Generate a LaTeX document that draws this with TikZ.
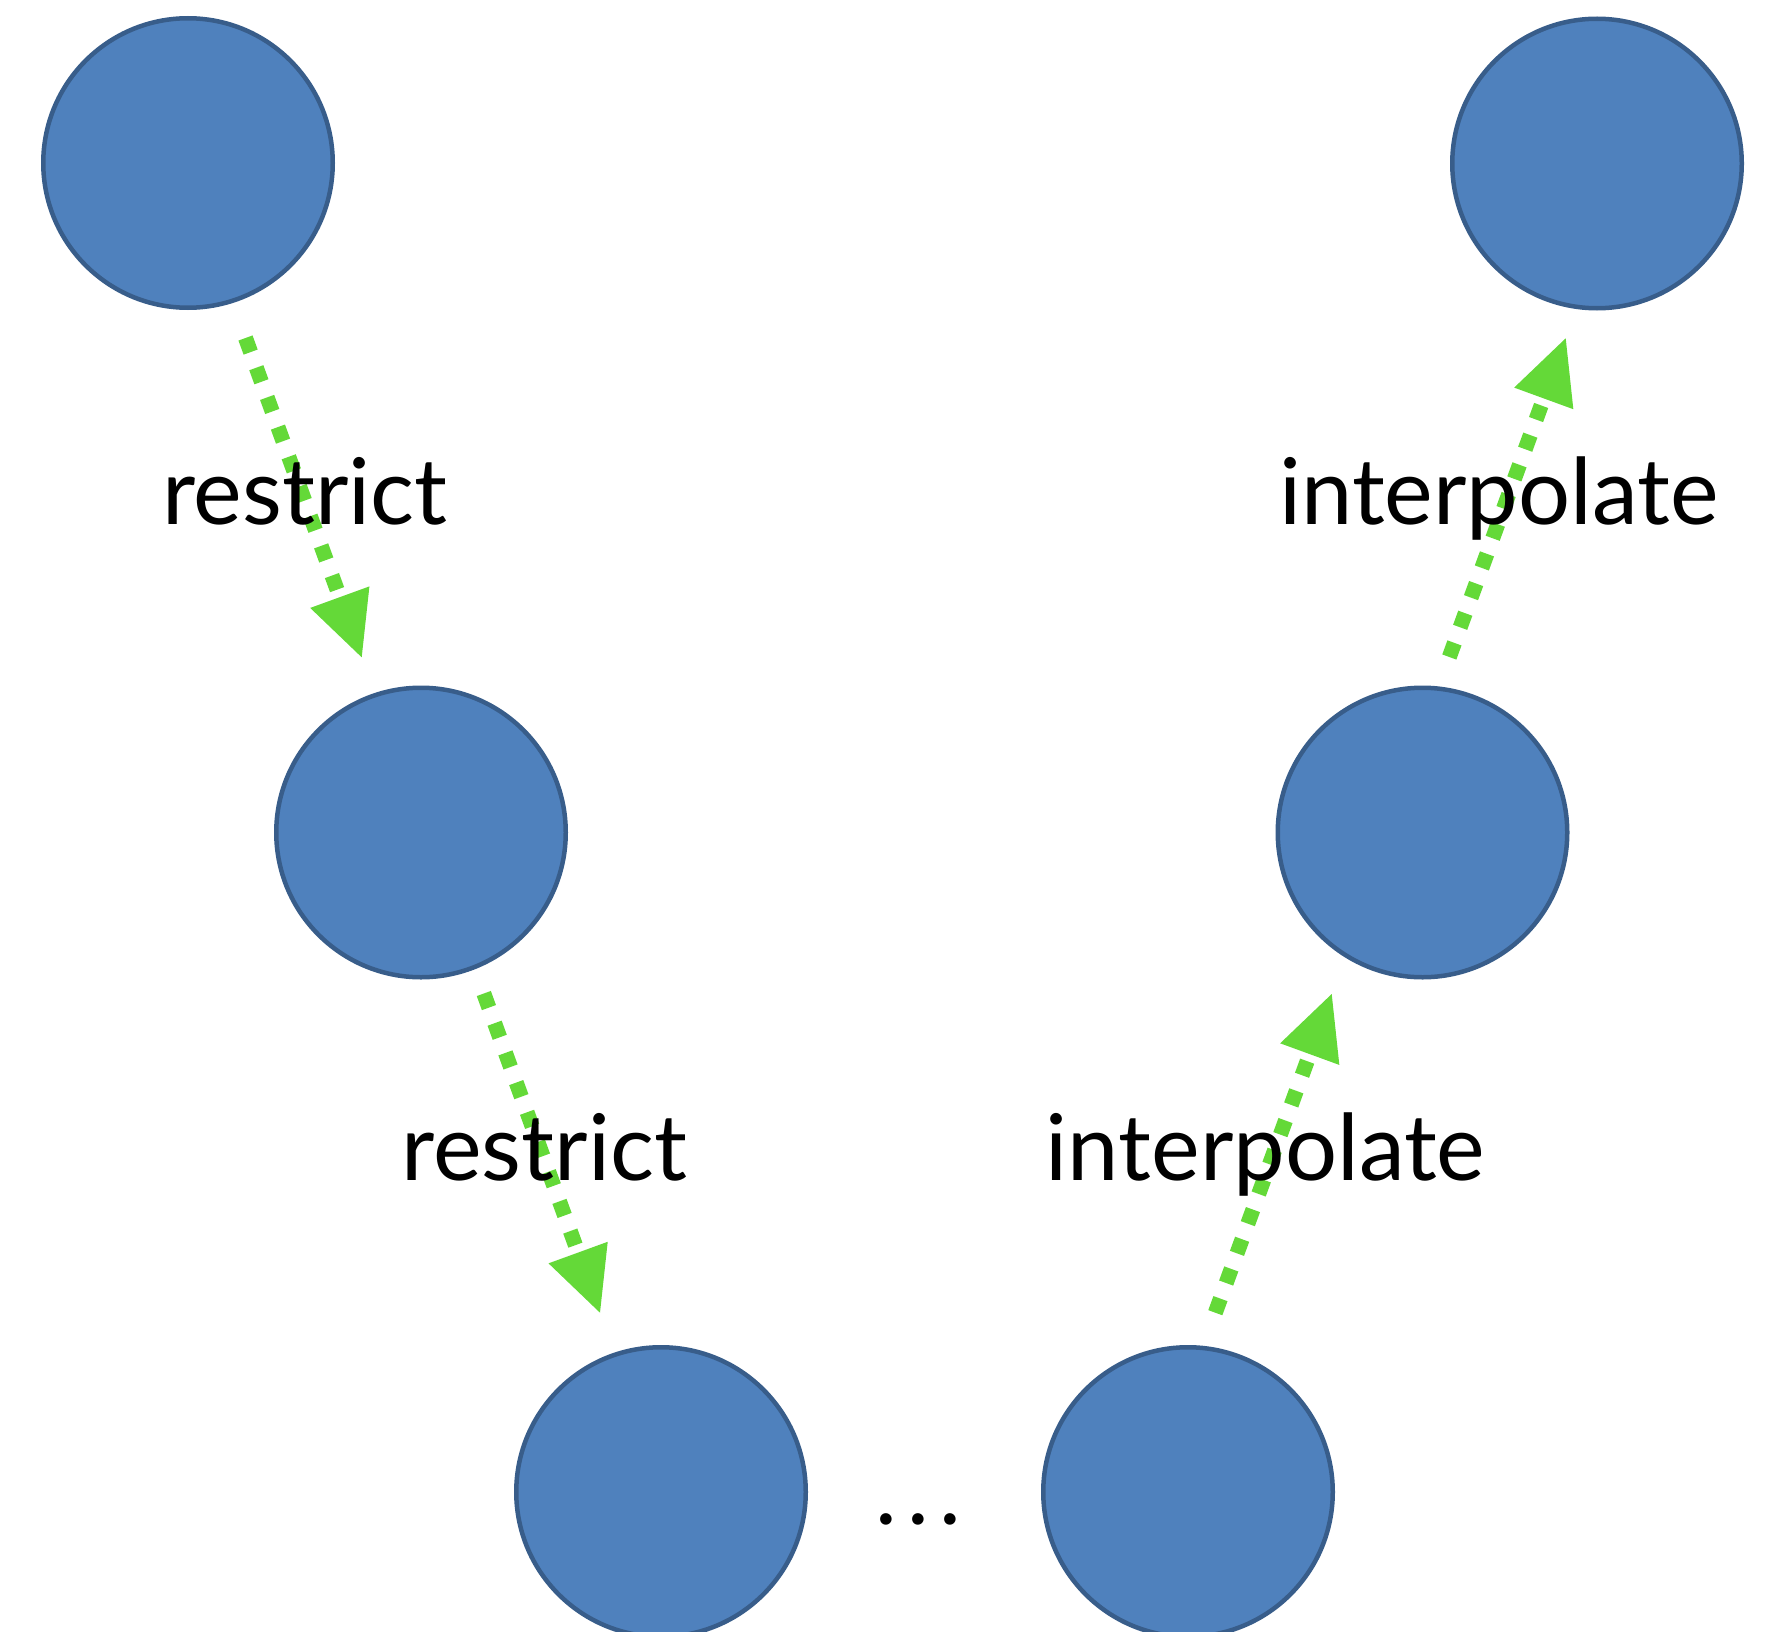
\documentclass[tikz,border=0pt]{standalone}
\usepackage{fontspec}
\setmainfont{Lato}
\usetikzlibrary{arrows.meta,calc}
\definecolor{fillblue}{RGB}{79,129,189}
\definecolor{edgeblue}{RGB}{56,93,138}
\definecolor{arrgreen}{RGB}{100,217,56}
\begin{document}
\begin{tikzpicture}[x=1pt,y=-1pt,
  ball/.style={circle,draw=edgeblue,fill=fillblue,line width=4.5pt,minimum size=289.5pt,inner sep=0pt},
  arr/.style={draw=arrgreen,line width=15pt,dash pattern=on 15pt off 16.6pt,
    -{Triangle[length=64pt,width=63pt,line width=0pt,fill=arrgreen]}},
  lbl/.style={font=\fontsize{92}{100}\selectfont,anchor=base,inner sep=0pt}]
\useasboundingbox (0,0) rectangle (1772,1632);
\node[ball] (A) at (188,163) {};
\node[ball] (B) at (421,832.5) {};
\node[ball] (C) at (661,1492) {};
\node[ball] (D) at (1188,1492) {};
\node[ball] (E) at (1422.5,832.5) {};
\node[ball] (F) at (1597,163.5) {};
\draw[arr] ($(A)+(57.5,175)$) -- ($(B)+(-59.3,-175.2)$);
\draw[arr] ($(B)+(62.8,161)$) -- ($(C)+(-61,-179.3)$);
\draw[arr] ($(D)+(27.3,-179.3)$) -- ($(E)+(-90.8,161.5)$);
\draw[arr] ($(E)+(26.8,-175.5)$) -- ($(F)+(-31.3,174.8)$);
\node[lbl] (r1) at (305,524.6) {restrict};
\node[lbl] (i1) at (1499,524) {interpolate};
\node[lbl] (r2) at (544.5,1180.5) {restrict};
\node[lbl] (i2) at (1265.6,1180.5) {interpolate};
\node[lbl] (dots) at (918.3,1524.6) {.\kern10pt.\kern10pt.};
\end{tikzpicture}
\end{document}
